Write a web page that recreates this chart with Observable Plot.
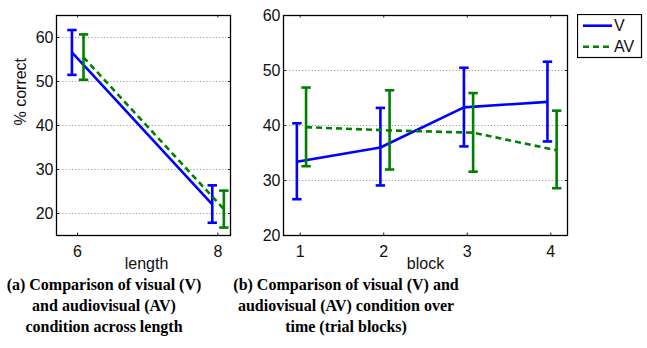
<!DOCTYPE html>
<html>
<head>
<meta charset="utf-8">
<script src="https://cdn.jsdelivr.net/npm/d3@7"></script>
<script src="https://cdn.jsdelivr.net/npm/@observablehq/plot@0.6"></script>
<style>
  html, body { margin: 0; padding: 0; background: #fff; }
  #wrap { position: relative; width: 647px; height: 348px; overflow: hidden; }
  #wrap svg.plot { position: absolute; top: 0; }
  .cap { position: absolute; font-family: "Liberation Serif", "Times New Roman", serif; font-weight: bold;
         font-size: 16px; line-height: 20.8px; text-align: center; white-space: nowrap; color: #000; }
  #legend { position: absolute; left: 577px; top: 14px; }
</style>
</head>
<body>
<div id="wrap"></div>
<script>
// ---- data ----
const lengths = [6, 8];
const vLen = [56.6, 22.1];
const vLenLo = [51.5, 17.9];
const vLenHi = [61.7, 26.4];
const avLen = [55.5, 21.0];
const avLenLo = [50.4, 16.8];
const avLenHi = [60.7, 25.2];

const blocks = [1, 2, 3, 4];
const vBlk = [33.4, 36.0, 43.3, 44.3];
const vBlkLo = [26.6, 29.1, 36.2, 37.1];
const vBlkHi = [40.4, 43.2, 50.5, 51.6];
const avBlk = [39.7, 39.1, 38.7, 35.5];
const avBlkLo = [32.6, 32.0, 31.6, 28.6];
const avBlkHi = [46.9, 46.4, 45.9, 42.7];

const leftYTicks = [20, 30, 40, 50, 60];
const rightYTicks = [20, 30, 40, 50, 60];
const seriesNames = ["V", "AV"];

const BLUE = "#0000ff", GREEN = "#008000";

function panel({cats, series, xDomain, yDomain, xTicks, yTicks, offsets, width, height, ml, mr, mt, mb, xLabel, xLabelDx, yLabel, left}) {
  const fw = width - ml - mr, fh = height - mt - mb;
  const pxX = fw / (xDomain[1] - xDomain[0]);
  const pxY = fh / (yDomain[1] - yDomain[0]);
  const capHalf = 4.7 / pxX;
  const tick = 2.5;
  const marks = [];
  // grid
  marks.push(Plot.ruleY(yTicks, {y: d => d, stroke: "#8a8a8a", strokeWidth: 1, strokeDasharray: "1,2.2", strokeOpacity: 1}));
  // inward ticks
  marks.push(Plot.ruleX(xTicks, {x: d => d, y1: yDomain[0], y2: yDomain[0] + tick / pxY, stroke: "#222", strokeWidth: 1}));
  marks.push(Plot.ruleX(xTicks, {x: d => d, y1: yDomain[1], y2: yDomain[1] - tick / pxY, stroke: "#222", strokeWidth: 1}));
  marks.push(Plot.link(yTicks, {x1: xDomain[0], x2: xDomain[0] + tick / pxX, y1: d => d, y2: d => d, stroke: "#222", strokeWidth: 1}));
  marks.push(Plot.link(yTicks, {x1: xDomain[1], x2: xDomain[1] - tick / pxX, y1: d => d, y2: d => d, stroke: "#222", strokeWidth: 1}));
  series.forEach((s, si) => {
    const rows = cats.map((c, i) => ({x: c + offsets[si], y: s.val[i], lo: s.lo[i], hi: s.hi[i]}));
    marks.push(Plot.line(rows, {x: "x", y: "y", stroke: s.color, strokeWidth: 2.6, strokeDasharray: s.dash, strokeLinecap: "butt"}));
    marks.push(Plot.ruleX(rows, {x: "x", y1: "lo", y2: "hi", stroke: s.color, strokeWidth: 2.6}));
    marks.push(Plot.link(rows, {x1: d => d.x - capHalf, x2: d => d.x + capHalf, y1: "hi", y2: "hi", stroke: s.color, strokeWidth: 2.6}));
    marks.push(Plot.link(rows, {x1: d => d.x - capHalf, x2: d => d.x + capHalf, y1: "lo", y2: "lo", stroke: s.color, strokeWidth: 2.6}));
  });
  marks.push(Plot.frame({stroke: "#000", strokeWidth: 1.3}));
  marks.push(Plot.axisX({ticks: xTicks, tickSize: 0, tickPadding: 10, tickFormat: d => String(d), label: null, fill: "#111"}));
  marks.push(Plot.axisY({ticks: yTicks, tickSize: 0, tickPadding: 3, tickFormat: d => String(d), label: null, fill: "#111"}));
  marks.push(Plot.text([xLabel], {x: (xDomain[0] + xDomain[1]) / 2, frameAnchor: "bottom", dy: 33, dx: xLabelDx, text: d => d, fill: "#111", fontSize: 16}));
  if (yLabel) marks.push(Plot.text([yLabel], {frameAnchor: "left", dx: -36, rotate: -90, text: d => d, fill: "#111", fontSize: 16}));
  const svg = Plot.plot({
    width, height, marginLeft: ml, marginRight: mr, marginTop: mt, marginBottom: mb,
    x: {domain: xDomain}, y: {domain: yDomain},
    style: {fontFamily: "'Liberation Sans', Arial, sans-serif", fontSize: "16px", background: "transparent", overflow: "visible"},
    marks
  });
  svg.classList.add("plot");
  svg.style.left = left + "px";
  return svg;
}

const wrap = document.getElementById("wrap");
wrap.appendChild(panel({
  cats: lengths,
  series: [
    {val: vLen, lo: vLenLo, hi: vLenHi, color: BLUE, dash: null},
    {val: avLen, lo: avLenLo, hi: avLenHi, color: GREEN, dash: "6,4"}
  ],
  xDomain: [5.7, 8.18], yDomain: [15, 65], xTicks: lengths, yTicks: leftYTicks,
  offsets: [-0.08, 0.085],
  width: 240, height: 270, ml: 56, mr: 10, mt: 15, mb: 35,
  xLabel: "length", xLabelDx: 3, yLabel: "% correct", left: 0
}));
wrap.appendChild(panel({
  cats: blocks,
  series: [
    {val: vBlk, lo: vBlkLo, hi: vBlkHi, color: BLUE, dash: null},
    {val: avBlk, lo: avBlkLo, hi: avBlkHi, color: GREEN, dash: "6,4"}
  ],
  xDomain: [0.8, 4.2], yDomain: [20, 60], xTicks: blocks, yTicks: rightYTicks,
  offsets: [-0.04, 0.07],
  width: 407, height: 270, ml: 43, mr: 80, mt: 15, mb: 35,
  xLabel: "block", xLabelDx: 0, yLabel: null, left: 240
}));

// legend
const ns = "http://www.w3.org/2000/svg";
const lg = document.createElementNS(ns, "svg");
lg.setAttribute("id", "legend");
lg.setAttribute("width", 66); lg.setAttribute("height", 45);
lg.innerHTML = `<rect x="0.5" y="0.5" width="64" height="43" fill="#fff" stroke="#000" stroke-width="1.2"/>` +
  seriesNames.map((n, i) => {
    const y = 11.7 + i * 21;
    const dash = i === 1 ? ' stroke-dasharray="6,4"' : '';
    const col = i === 0 ? BLUE : GREEN;
    return `<line x1="6" x2="35" y1="${y}" y2="${y}" stroke="${col}" stroke-width="2.6"${dash}/>` +
      `<text x="37" y="${y}" dy="0.36em" font-family="'Liberation Sans', Arial, sans-serif" font-size="16" fill="#111">${n}</text>`;
  }).join("");
wrap.appendChild(lg);

// captions
const capA = document.createElement("div");
capA.className = "cap";
capA.style.left = "0px"; capA.style.width = "208px"; capA.style.top = "275px";
capA.innerHTML = "(a) Comparison of visual (V)<br>and audiovisual (AV)<br>condition across length";
wrap.appendChild(capA);
const capB = document.createElement("div");
capB.className = "cap";
capB.style.left = "226px"; capB.style.width = "240px"; capB.style.top = "275px";
capB.innerHTML = "(b) Comparison of visual (V) and<br>audiovisual (AV) condition over<br>time (trial blocks)";
wrap.appendChild(capB);
</script>
</body>
</html>
